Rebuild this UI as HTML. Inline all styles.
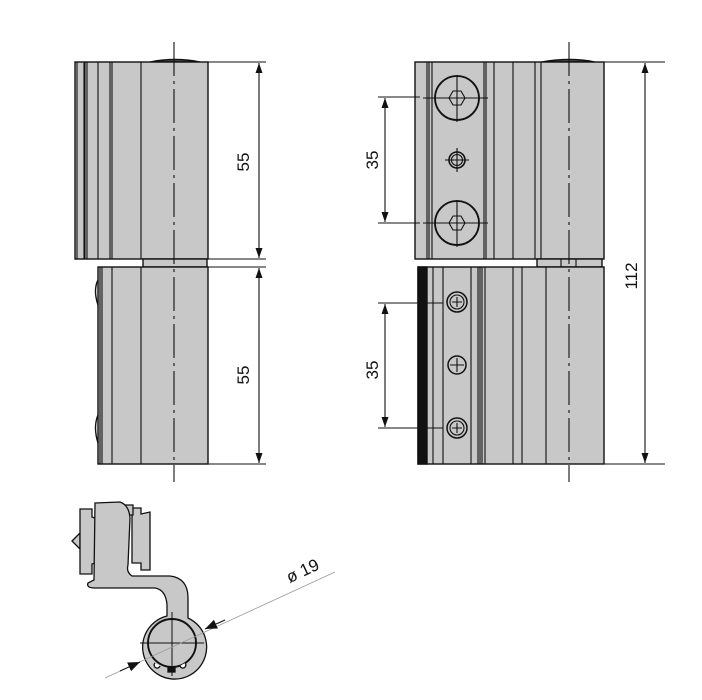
<!DOCTYPE html>
<html><head><meta charset="utf-8"><style>
html,body{margin:0;padding:0;background:#fff;}
svg{display:block;}
text{font-family:"Liberation Sans",sans-serif;font-size:17px;fill:#111;}
</style></head><body>
<svg width="702" height="700" viewBox="0 0 702 700" xmlns="http://www.w3.org/2000/svg">
<defs>
<marker id="a" viewBox="0 0 10 10" refX="10" refY="5" markerWidth="10" markerHeight="10" markerUnits="userSpaceOnUse" orient="auto-start-reverse"><path d="M0,1.5 L10,5 L0,8.5 z" fill="#111"/></marker>
<marker id="b" viewBox="0 0 10 10" refX="10" refY="5" markerWidth="12" markerHeight="12" markerUnits="userSpaceOnUse" orient="auto"><path d="M0,1 L10,5 L0,9 z" fill="#111"/></marker>
</defs>
<g stroke="#111" stroke-width="1.4" fill="#c8c8c8">
<!-- LEFT VIEW -->
<path d="M150,62 Q175,57 200,62 Z" fill="#555"/>
<rect x="75" y="62" width="133" height="197"/>
<rect x="143" y="259" width="64" height="8"/>
<rect x="98" y="267" width="110" height="197"/>
<path d="M98,280 q-5,10 0,25 M98,415 q-5,12 0,28" fill="none"/>
</g>
<g stroke="#111" stroke-width="1.1" fill="none">
<path d="M77,62V259 M84,62V259 M85,62V259 M87,62V259 M98,62V259 M110,62V259 M112,62V259 M141,62V259"/>
<path d="M100,267V464 M102,267V464 M112,267V464 M141,267V464"/>
<path d="M174,42V482" stroke-dasharray="34,5,3,5"/>
<path d="M208,62H266 M208,259H266 M208,267H266 M208,464H266"/>
<line x1="259" y1="63" x2="259" y2="258" marker-start="url(#a)" marker-end="url(#a)"/>
<line x1="259" y1="268" x2="259" y2="463" marker-start="url(#a)" marker-end="url(#a)"/>
</g>
<text transform="translate(249,162) rotate(-90)" text-anchor="middle">55</text>
<text transform="translate(249,375) rotate(-90)" text-anchor="middle">55</text>

<!-- RIGHT VIEW -->
<g stroke="#111" stroke-width="1.4" fill="#c8c8c8">
<path d="M542,62 Q570,57 595,62 Z" fill="#555"/>
<rect x="415" y="62" width="189" height="197"/>
<rect x="537" y="259" width="65" height="8"/>
<rect x="418" y="267" width="186" height="197"/>
<rect x="418" y="267" width="9" height="197" fill="#111"/>
</g>
<g stroke="#111" stroke-width="1.1" fill="none">
<path d="M427,62V259 M429,62V259 M432,62V259 M484,62V259 M486,62V259 M494,62V259 M513,62V259 M535,62V259 M541,62V259"/>
<path d="M561,259V267 M576,259V267"/>
<path d="M433,267V464 M443,267V464 M471,267V464 M478,267V464 M480,267V464 M482,267V464 M485,267V464 M513,267V464 M522,267V464 M546,267V464"/>
<path d="M569,42V482" stroke-dasharray="34,5,3,5"/>
<circle cx="457" cy="98" r="22" stroke-width="1.8"/>
<path d="M457,75V122 M423,98H488 M449,98 L453,91 L461,91 L465,98 L461,105 L453,105 Z M453,98H461 M457,94V102"/>
<circle cx="457" cy="223" r="22" stroke-width="1.8"/>
<path d="M457,200V247 M423,223H488 M449,223 L453,216 L461,216 L465,223 L461,230 L453,230 Z M453,223H461 M457,219V227"/>
<circle cx="457" cy="160" r="8" stroke-width="1.6"/>
<circle cx="457" cy="160" r="5.5"/>
<path d="M457,148V172 M445,160H469"/>
<circle cx="457" cy="302" r="10" stroke-width="1.5"/><circle cx="457" cy="302" r="7"/>
<path d="M457,297V307 M452,302H462"/>
<circle cx="457" cy="365" r="9" stroke-width="1.5"/>
<path d="M457,358V372 M450,365H464"/>
<circle cx="457" cy="428" r="10" stroke-width="1.5"/><circle cx="457" cy="428" r="7"/>
<path d="M457,423V433 M452,428H462"/>
<path d="M378,97H420 M378,223H420 M378,303H443 M378,428H443"/>
<line x1="385" y1="98" x2="385" y2="222" marker-start="url(#a)" marker-end="url(#a)"/>
<line x1="385" y1="304" x2="385" y2="427" marker-start="url(#a)" marker-end="url(#a)"/>
<path d="M604,62H665 M604,464H665"/>
<line x1="645" y1="63" x2="645" y2="463" marker-start="url(#a)" marker-end="url(#a)"/>
</g>
<text transform="translate(378,160) rotate(-90)" text-anchor="middle">35</text>
<text transform="translate(378,370) rotate(-90)" text-anchor="middle">35</text>
<text transform="translate(637,276) rotate(-90)" text-anchor="middle">112</text>

<!-- SECTION -->
<g stroke="#111" stroke-width="1.3" fill="#c8c8c8">
<path d="M72,541 L80,533 L80,549 Z"/>
<path d="M80,509 L92,509 L92,517 L100,520 L100,562 L92,564 L92,574 L80,574 Z"/>
<path d="M132,508 L141,508 L141,514 L150,512 L150,570 L141,570 L141,563 L132,563 Z"/>
<path d="M124,505 L133,505 L133,515 L124,515 Z"/>
<path d="M95,503 L120,502 Q129,505 130,518 L128,565 Q126,572 132,576 L170,576 Q188,578 188,598 L188,618 A32,32 0 1 1 167,616 L167,605 Q166,590 155,588 L95,588 Q86,588 88,583 L94,580 Z"/>
<circle cx="172" cy="643" r="24" stroke-width="1.9"/>
<path d="M155,663 a3,3 0 1 0 5,3 M185,663 a3,3 0 1 1 -5,3" fill="#fff"/>
<rect x="168" y="667" width="7" height="5" fill="#111"/>
</g>
<g stroke="#111" stroke-width="1" fill="none">
<path d="M172,612V676 M140,643H204"/>
<line x1="105" y1="678" x2="335" y2="572" stroke="#999" stroke-width="0.8"/>
<line x1="120" y1="671" x2="140" y2="662" marker-end="url(#b)"/>
<line x1="225" y1="620" x2="205" y2="629" marker-end="url(#b)"/>
</g>
<text transform="translate(305,576) rotate(-25)" text-anchor="middle">ø 19</text>
</svg>
</body></html>
